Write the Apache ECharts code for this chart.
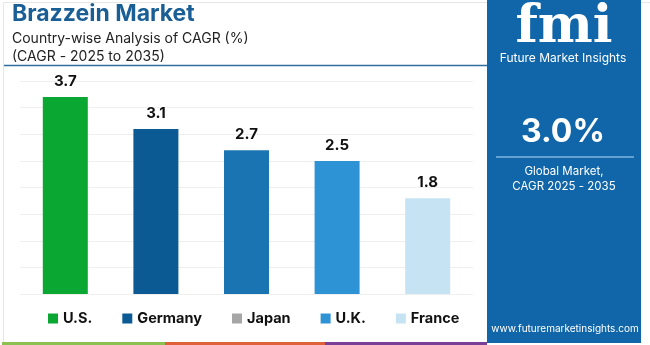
<!DOCTYPE html>
<html><head><meta charset="utf-8">
<script src="https://cdn.jsdelivr.net/npm/echarts@6/dist/echarts.min.js"></script>
<style>html,body{margin:0;padding:0;background:#fff}#c{width:650px;height:345px}</style>
</head><body><div id="c"></div>
<script>
const categories = ['U.S.', 'Germany', 'Japan', 'U.K.', 'France'];
const values = [3.7, 3.1, 2.7, 2.5, 1.8];
const barColors = ['#0aa832', '#0b5a94', '#1a74b2', '#2e93d4', '#c6e3f3'];
const legendColors = ['#0aa832', '#0b5a94', '#a6a6a6', '#2e93d4', '#c6e3f3'];
const yTicks = [0, 0.5, 1, 1.5, 2, 2.5, 3, 3.5, 4];
const headline = '3.0%';

const F = 'Inter, "Open Sans", sans-serif';
const series = categories.map((name, i) => ({
  name: name,
  type: 'bar',
  stack: 'all',
  barWidth: 45,
  itemStyle: { color: legendColors[i] },
  label: { show: true, position: 'top', distance: 8, color: '#111', fontSize: 15, fontWeight: 'bold', fontFamily: F },
  data: categories.map((c, j) => j === i ? { value: values[i], itemStyle: { color: barColors[i] } } : null)
}));

const chart = echarts.init(document.getElementById('c'));
chart.setOption({
  animation: false,
  grid: { left: 20, right: 177, top: 81, bottom: 51 },
  xAxis: { type: 'category', data: categories, axisLine: { show: false }, axisTick: { show: false }, axisLabel: { show: false } },
  yAxis: { type: 'value', min: yTicks[0], max: yTicks[yTicks.length - 1], interval: 0.5,
    axisLabel: { show: false }, axisLine: { show: false }, axisTick: { show: false },
    splitLine: { lineStyle: { color: '#efefef', width: 1 } } },
  legend: {
    data: categories, left: 48, top: 311, padding: 0, itemWidth: 10, itemHeight: 10, itemGap: 30,
    icon: 'rect',
    textStyle: { fontSize: 14.5, fontWeight: 'bold', color: '#111', fontFamily: F }
  },
  series: series,
  graphic: [
    { type: 'rect', left: 1, top: 0, shape: { width: 648, height: 344 }, style: { fill: 'none', stroke: '#e6e6e6', lineWidth: 1 }, silent: true },
    { type: 'text', left: 12, top: 3, style: { text: 'Brazzein Market', fill: '#1a5e96', font: 'bold 23px ' + F } },
    { type: 'text', left: 12, top: 32, style: { text: 'Country-wise Analysis of CAGR (%)', fill: '#222', font: '14px ' + F } },
    { type: 'text', left: 12, top: 50, style: { text: '(CAGR - 2025 to 2035)', fill: '#222', font: '14px ' + F } },
    { type: 'line', shape: { x1: 4, y1: 65.5, x2: 487, y2: 65.5 }, style: { stroke: '#2f6e9e', lineWidth: 1.5 } },
    { type: 'rect', shape: { x: 487, y: 0, width: 154, height: 343 }, style: { fill: '#1066a8' } },
    { type: 'text', x: 564, y: 28, style: { text: 'fmi', fill: '#fff', font: 'bold 52px "DejaVu Serif", serif', align: 'center', verticalAlign: 'middle' } },
    { type: 'text', x: 563, y: 58, style: { text: 'Future Market Insights', fill: '#fff', font: '12px ' + F, align: 'center', verticalAlign: 'middle' } },
    { type: 'text', x: 563, y: 132, style: { text: headline, fill: '#fff', font: 'bold 32px ' + F, align: 'center', verticalAlign: 'middle' } },
    { type: 'line', shape: { x1: 496, y1: 157, x2: 634, y2: 157 }, style: { stroke: '#7fb6e0', lineWidth: 1.5 } },
    { type: 'text', x: 564, y: 172, style: { text: 'Global Market,', fill: '#fff', font: '11.5px ' + F, align: 'center', verticalAlign: 'middle' } },
    { type: 'text', x: 564, y: 187, style: { text: 'CAGR 2025 - 2035', fill: '#fff', font: '11.5px ' + F, align: 'center', verticalAlign: 'middle' } },
    { type: 'text', x: 565, y: 329, style: { text: 'www.futuremarketinsights.com', fill: '#fff', font: '10px ' + F, align: 'center', verticalAlign: 'middle' } },
    { type: 'rect', shape: { x: 2, y: 342, width: 163, height: 3 }, style: { fill: '#8cc152' } },
    { type: 'rect', shape: { x: 165, y: 342, width: 160, height: 3 }, style: { fill: '#e0603a' } },
    { type: 'rect', shape: { x: 325, y: 342, width: 162, height: 3 }, style: { fill: '#7b3f98' } }
  ]
});
</script></body></html>
